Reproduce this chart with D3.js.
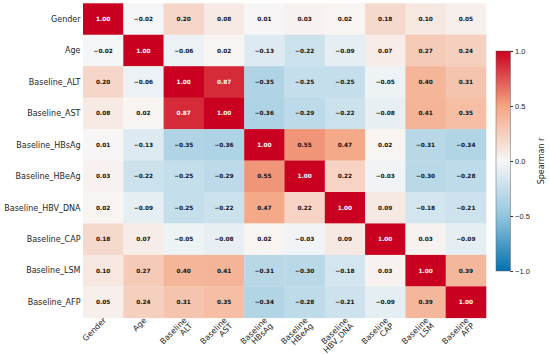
<!DOCTYPE html>
<html>
<head>
<meta charset="utf-8">
<script src="https://cdn.jsdelivr.net/npm/d3@7"></script>
<style>
  body { margin: 0; background: #fff; }
  svg { font-family: "DejaVu Sans", sans-serif; }
  .row-label, .col-label { font-size: 8px; fill: #262626; }
  .cell-text { font-size: 5.8px; font-weight: bold; }
  .cbar-axis text { font-size: 7.5px; fill: #262626; }
  .cbar-axis line { stroke: #262626; }
  .cbar-axis .domain { display: none; }
</style>
</head>
<body>
<script>
const rowLabels = ["Gender", "Age", "Baseline_ALT", "Baseline_AST", "Baseline_HBsAg",
  "Baseline_HBeAg", "Baseline_HBV_DNA", "Baseline_CAP", "Baseline_LSM", "Baseline_AFP"];

const colLabels = ["Gender", "Age", "Baseline\nALT", "Baseline\nAST", "Baseline\nHBsAg",
  "Baseline\nHBeAg", "Baseline\nHBV_DNA", "Baseline\nCAP", "Baseline\nLSM", "Baseline\nAFP"];

const values = [
  [1.00, -0.02, 0.20, 0.08, 0.01, 0.03, 0.02, 0.18, 0.10, 0.05],
  [-0.02, 1.00, -0.06, 0.02, -0.13, -0.22, -0.09, 0.07, 0.27, 0.24],
  [0.20, -0.06, 1.00, 0.87, -0.35, -0.25, -0.25, -0.05, 0.40, 0.31],
  [0.08, 0.02, 0.87, 1.00, -0.36, -0.29, -0.22, -0.08, 0.41, 0.35],
  [0.01, -0.13, -0.35, -0.36, 1.00, 0.55, 0.47, 0.02, -0.31, -0.34],
  [0.03, -0.22, -0.25, -0.29, 0.55, 1.00, 0.22, -0.03, -0.30, -0.28],
  [0.02, -0.09, -0.25, -0.22, 0.47, 0.22, 1.00, 0.09, -0.18, -0.21],
  [0.18, 0.07, -0.05, -0.08, 0.02, -0.03, 0.09, 1.00, 0.03, -0.09],
  [0.10, 0.27, 0.40, 0.41, -0.31, -0.30, -0.18, 0.03, 1.00, 0.39],
  [0.05, 0.24, 0.31, 0.35, -0.34, -0.28, -0.21, -0.09, 0.39, 1.00]
];

const cbarTicks = [-1.0, -0.5, 0.0, 0.5, 1.0];

const width = 550;
const height = 354;
const grid = { left: 83, right: 486, top: 3.3, bottom: 317.8 };
const cbar = { x: 496, w: 14.5, top: 51, bottom: 271 };

const color = d3.scaleLinear()
  .domain([-1, -0.5, 0, 0.5, 1])
  .range(["#0571b0", "#92c5de", "#f7f7f7", "#f4a582", "#ca0020"])
  .interpolate(d3.interpolateRgb);

const fmt = v => d3.format(".2f")(v).replace("-", "\u2212");

const svg = d3.select("body").append("svg")
  .attr("width", width)
  .attr("height", height);

const x = d3.scaleBand().domain(d3.range(colLabels.length)).range([grid.left, grid.right]);
const y = d3.scaleBand().domain(d3.range(rowLabels.length)).range([grid.top, grid.bottom]);

// cells
const cells = [];
values.forEach((row, i) => row.forEach((v, j) => cells.push({ i, j, v })));

svg.append("g").selectAll("rect")
  .data(cells)
  .enter().append("rect")
  .attr("x", d => x(d.j))
  .attr("y", d => y(d.i))
  .attr("width", x.bandwidth() + 0.3)
  .attr("height", y.bandwidth() + 0.3)
  .attr("fill", d => color(d.v));

svg.append("g").selectAll("text")
  .data(cells)
  .enter().append("text")
  .attr("class", "cell-text")
  .attr("x", d => x(d.j) + x.bandwidth() / 2)
  .attr("y", d => y(d.i) + y.bandwidth() / 2)
  .attr("dy", "0.35em")
  .attr("text-anchor", "middle")
  .attr("fill", d => Math.abs(d.v) > 0.6 ? "#fff" : "#111")
  .text(d => fmt(d.v));

// row labels
svg.append("g").selectAll("text")
  .data(rowLabels)
  .enter().append("text")
  .attr("class", "row-label")
  .attr("x", grid.left - 2.5)
  .attr("y", (d, i) => y(i) + y.bandwidth() / 2)
  .attr("dy", "0.35em")
  .attr("text-anchor", "end")
  .text(d => d);

// column labels, rotated
const colG = svg.append("g").selectAll("g")
  .data(colLabels)
  .enter().append("g")
  .attr("transform", (d, i) => `translate(${x(i) + x.bandwidth() / 2 + 3.5},${grid.bottom + 3})`);

colG.append("text")
  .attr("class", "col-label")
  .attr("text-anchor", "end")
  .attr("transform", "rotate(-45)")
  .selectAll("tspan")
  .data(d => d.split("\n"))
  .enter().append("tspan")
  .attr("x", 0)
  .attr("y", (d, k) => k * 7.8)
  .text(d => d);

// colorbar
const defs = svg.append("defs");
const grad = defs.append("linearGradient")
  .attr("id", "cbar-grad")
  .attr("x1", 0).attr("y1", 1).attr("x2", 0).attr("y2", 0);
d3.range(0, 1.0001, 0.05).forEach(t => {
  grad.append("stop")
    .attr("offset", t)
    .attr("stop-color", color(-1 + 2 * t));
});

svg.append("rect")
  .attr("x", cbar.x)
  .attr("y", cbar.top)
  .attr("width", cbar.w)
  .attr("height", cbar.bottom - cbar.top)
  .attr("fill", "url(#cbar-grad)")
  .attr("stroke", "#666")
  .attr("stroke-width", 0.5);

const cScale = d3.scaleLinear().domain([-1, 1]).range([cbar.bottom, cbar.top]);

svg.append("g")
  .attr("class", "cbar-axis")
  .attr("transform", `translate(${cbar.x + cbar.w},0)`)
  .call(d3.axisRight(cScale).tickValues(cbarTicks).tickSize(2.5).tickPadding(2)
    .tickFormat(v => d3.format(".1f")(v).replace("-", "\u2212")));

svg.append("text")
  .attr("class", "row-label")
  .attr("transform", `translate(541,${(cbar.top + cbar.bottom) / 2}) rotate(-90)`)
  .attr("text-anchor", "middle")
  .attr("dy", "0.35em")
  .text("Spearman r");
</script>
</body>
</html>
